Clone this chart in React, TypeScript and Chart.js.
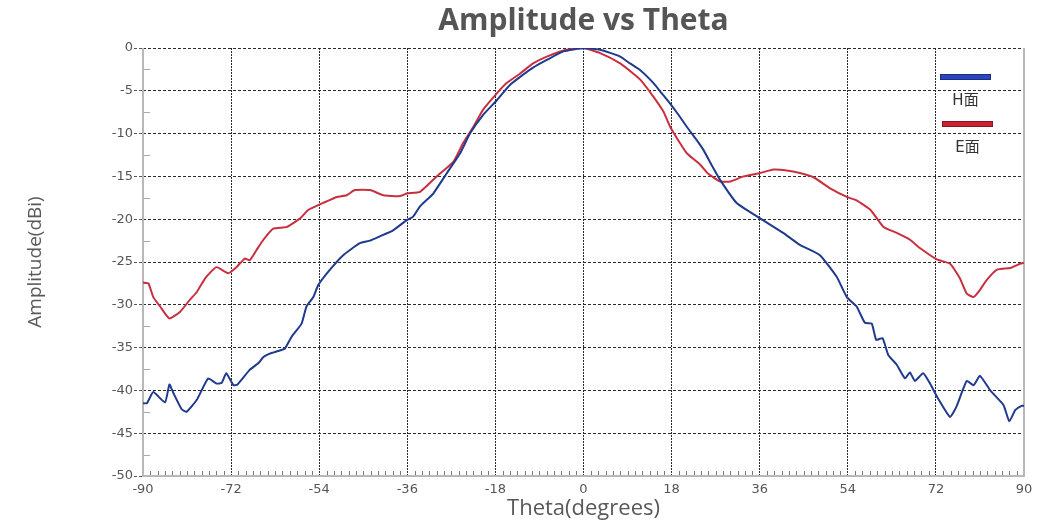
import React, { useEffect, useRef } from 'react';
import { Chart, registerables } from 'chart.js';

Chart.register(...registerables);

const chartTitle = 'Amplitude vs Theta';
const xAxisTitle = 'Theta(degrees)';
const yAxisTitle = 'Amplitude(dBi)';
const seriesLabels = ['H面', 'E面'];

const xTickValues = [-90, -72, -54, -36, -18, 0, 18, 36, 54, 72, 90];
const yTickValues = [0, -5, -10, -15, -20, -25, -30, -35, -40, -45, -50];

const hTheta = [
  -90, -89.2, -87.9, -85.5, -84.6, -83.8, -82.1, -81.1, -79, -76.7, -75, -73.9, -73, -71.5, -70.7,
  -68.2, -66.4, -65.4, -64.1, -62.4, -61, -59.6, -57.6, -56.6, -55.2, -54.2, -51.8, -49.1, -45.7,
  -43.6, -41.6, -38.9, -36.1, -34.8, -33.4, -30.7, -27.9, -25.2, -23.2, -20.5, -17.7, -15, -13,
  -10.3, -7.5, -4.1, 0, 3.4, 7.5, 9.5, 11.6, 14.3, 16, 17.7, 19.4, 21.1, 22.8, 24.5, 26.2, 27.9,
  31.3, 36.1, 40.8, 44.2, 48.3, 51.7, 53.8, 55.8, 57.5, 58.9, 59.8, 61.1, 62.3, 64, 65.7, 66.7,
  67.7, 69.4, 70.8, 72.2, 74.9, 76.2, 78.3, 79.7, 81, 83.1, 85.8, 87, 88.2, 89.5, 90,
];
const hAmp = [
  -41.5, -41.5, -40.2, -41.4, -39.3, -40.3, -42.2, -42.5, -41.1, -38.6, -39.2, -39.1, -38.0, -39.4, -39.3,
  -37.6, -36.8, -36.1, -35.7, -35.4, -35.1, -33.7, -32.2, -30.2, -29.1, -27.7, -25.9, -24.2, -22.8,
  -22.5, -22.0, -21.3, -20.1, -19.7, -18.5, -17.0, -14.6, -12.3, -10.0, -7.8, -6.1, -4.3, -3.4,
  -2.3, -1.4, -0.4, 0, -0.2, -1.0, -1.8, -2.6, -4.1, -5.3, -6.5, -7.8, -9.2, -10.5, -11.9, -13.7, -15.4,
  -18.1, -19.9, -21.6, -23.0, -24.2, -26.7, -29.1, -30.2, -32.1, -32.2, -34.1, -33.9, -35.9, -37.0, -38.6, -37.9,
  -38.9, -38.0, -39.2, -40.7, -43.1, -41.9, -38.9, -39.4, -38.3, -40.0, -41.7, -43.6, -42.3, -41.8, -41.8,
];

const eTheta = [
  -90, -88.9, -87.9, -86.5, -84.6, -82.4, -80.4, -79, -77.3, -75, -72.6, -70.9, -69.2, -68.2, -66.8,
  -65.4, -63.4, -60.6, -57.9, -56.2, -53.2, -50.4, -48.4, -46.7, -43.6, -40.9, -37.5, -36.1, -33.4,
  -30, -26.6, -24.6, -22.5, -20.5, -17.7, -15.7, -13, -10.3, -7.5, -3.4, 0, 3.4, 7.5, 10.2, 11.6,
  14.3, 16.3, 17.7, 19.7, 21.1, 23.8, 25.5, 27.9, 30, 32.7, 36.1, 38.8, 41.5, 44.2, 47, 50.4, 53.8,
  55.8, 58.6, 61.3, 64, 66.7, 68.8, 72.2, 74.9, 76.9, 78.3, 79.7, 80.7, 82.4, 84.5, 87.2, 89.2, 90,
];
const eAmp = [
  -27.4, -27.5, -29.1, -30.2, -31.6, -30.8, -29.4, -28.5, -26.9, -25.6, -26.3, -25.6, -24.6, -24.8, -23.6,
  -22.4, -21.1, -20.9, -19.9, -18.9, -18.1, -17.4, -17.2, -16.6, -16.6, -17.2, -17.3, -17.0, -16.8,
  -15.0, -13.3, -11.1, -9.2, -7.2, -5.3, -4.1, -3.0, -1.8, -1.0, -0.2, 0, -0.6, -1.8, -3.0, -3.7,
  -5.7, -7.4, -9.2, -11.1, -12.3, -13.6, -14.7, -15.6, -15.6, -15.0, -14.6, -14.2, -14.3, -14.6, -15.1, -16.4, -17.4,
  -17.8, -18.9, -20.9, -21.6, -22.4, -23.4, -24.7, -25.2, -26.9, -28.7, -29.1, -28.5, -27.1, -25.9, -25.7, -25.2, -25.1,
];

const hColor = '#1f3a8e';
const eColor = '#c8303f';
const hLegendColor = '#2a45c2';
const eLegendColor = '#cc2233';

const framePlugin = {
  id: 'frame',
  beforeDatasetsDraw(chart: any) {
    const { ctx, chartArea, scales } = chart;
    const { left, right, top, bottom } = chartArea;
    const x = scales.x;
    const y = scales.y;
    ctx.save();
    ctx.strokeStyle = '#777';
    ctx.lineWidth = 1;
    for (let i = 1; i < 120; i++) {
      if (i % 12 === 0) continue;
      const px = Math.round(x.getPixelForValue(-90 + 1.5 * i)) + 0.5;
      ctx.beginPath();
      ctx.moveTo(px, bottom);
      ctx.lineTo(px, bottom - 5);
      ctx.stroke();
    }
    ctx.strokeStyle = '#aaa';
    for (let i = 0; i < 10; i++) {
      const py = Math.round(y.getPixelForValue(-2.5 - 5 * i)) + 0.5;
      ctx.beginPath();
      ctx.moveTo(left, py);
      ctx.lineTo(left + 7, py);
      ctx.stroke();
    }
    ctx.strokeStyle = '#b8b8b8';
    ctx.lineWidth = 2;
    ctx.setLineDash([]);
    ctx.beginPath();
    ctx.moveTo(left, top);
    ctx.lineTo(left, bottom);
    ctx.lineTo(right, bottom);
    ctx.lineTo(right, top);
    ctx.stroke();
    ctx.restore();
  },
};

const legendPlugin = {
  id: 'customLegend',
  afterDraw(chart: any) {
    const { ctx, chartArea } = chart;
    const { right, top } = chartArea;
    const items = [
      { color: hLegendColor, label: chart.data.datasets[0].label, y: top + 29, dx: 0 },
      { color: eLegendColor, label: chart.data.datasets[1].label, y: top + 76, dx: 2 },
    ];
    ctx.save();
    for (const it of items) {
      const x0 = right - 84 + it.dx;
      ctx.fillStyle = it.color;
      ctx.fillRect(x0, it.y - 3, 51, 6);
      ctx.strokeStyle = 'rgba(0,0,0,0.35)';
      ctx.lineWidth = 1;
      ctx.strokeRect(x0 + 0.5, it.y - 2.5, 50, 5);
      ctx.fillStyle = '#333';
      ctx.font = '15px "DejaVu Sans", "Noto Sans CJK SC", sans-serif';
      ctx.textAlign = 'center';
      ctx.textBaseline = 'middle';
      ctx.fillText(it.label, x0 + 25.5, it.y + 24);
    }
    ctx.restore();
  },
};

export default function App() {
  const canvasRef = useRef<HTMLCanvasElement | null>(null);

  useEffect(() => {
    if (!canvasRef.current) return;
    const hData = hTheta.map((t, i) => ({ x: t, y: hAmp[i] }));
    const eData = eTheta.map((t, i) => ({ x: t, y: eAmp[i] }));
    const edgeX = (c: any) =>
      c.tick && (c.tick.value === -90 || c.tick.value === 90) ? 'rgba(0,0,0,0)' : '#2a2a2a';
    const edgeY = (c: any) =>
      c.tick && c.tick.value === -50 ? 'rgba(0,0,0,0)' : '#2a2a2a';

    const chart = new Chart(canvasRef.current, {
      type: 'line',
      data: {
        datasets: [
          {
            label: seriesLabels[0],
            data: hData,
            borderColor: hColor,
            backgroundColor: hColor,
            borderWidth: 2,
            pointRadius: 0,
            tension: 0.15,
          },
          {
            label: seriesLabels[1],
            data: eData,
            borderColor: eColor,
            backgroundColor: eColor,
            borderWidth: 2,
            pointRadius: 0,
            tension: 0.15,
          },
        ],
      },
      options: {
        responsive: false,
        animation: false,
        layout: { padding: { left: 0, right: 17, top: 0, bottom: 0 } },
        plugins: {
          legend: { display: false },
          tooltip: { enabled: false },
          title: {
            display: true,
            fullSize: false,
            text: chartTitle,
            color: '#555',
            font: { family: '"Open Sans", sans-serif', size: 30, weight: 'bold' },
            padding: { top: 3, bottom: 9 },
          },
        },
        scales: {
          x: {
            type: 'linear',
            min: -90,
            max: 90,
            afterBuildTicks: (s: any) => {
              s.ticks = xTickValues.map((v) => ({ value: v }));
            },
            afterFit: (s: any) => {
              s.height = 51;
            },
            ticks: {
              color: '#555',
              font: { family: '"DejaVu Sans", sans-serif', size: 13 },
              padding: 6,
              maxRotation: 0,
              autoSkip: false,
            },
            grid: {
              color: edgeX,
              lineWidth: 1,
              drawTicks: false,
            },
            border: { display: false, dash: [2, 1] },
            title: {
              display: true,
              text: xAxisTitle,
              color: '#595959',
              font: { family: '"Open Sans", sans-serif', size: 22 },
              padding: { top: 0, bottom: 5 },
            },
          },
          y: {
            type: 'linear',
            min: -50,
            max: 0,
            afterBuildTicks: (s: any) => {
              s.ticks = yTickValues.map((v) => ({ value: v }));
            },
            afterFit: (s: any) => {
              s.width = 143;
            },
            ticks: {
              color: '#555',
              font: { family: '"DejaVu Sans", sans-serif', size: 13 },
              padding: 1,
            },
            grid: {
              color: edgeY,
              lineWidth: 1,
              drawTicks: true,
              tickLength: 9,
              tickColor: '#555',
              tickBorderDash: [3, 2],
            },
            border: { display: false, dash: [3, 2] },
            title: {
              display: true,
              text: yAxisTitle,
              color: '#595959',
              font: { family: '"Open Sans", sans-serif', size: 19 },
              padding: { top: 24, bottom: 0 },
            },
          },
        },
      },
      plugins: [framePlugin, legendPlugin],
    } as any);

    return () => chart.destroy();
  }, []);

  return (
    <div style={{ position: 'absolute', left: 0, top: 0, width: 1041, height: 527, background: '#fff' }}>
      <canvas ref={canvasRef} width={1041} height={527} />
    </div>
  );
}
